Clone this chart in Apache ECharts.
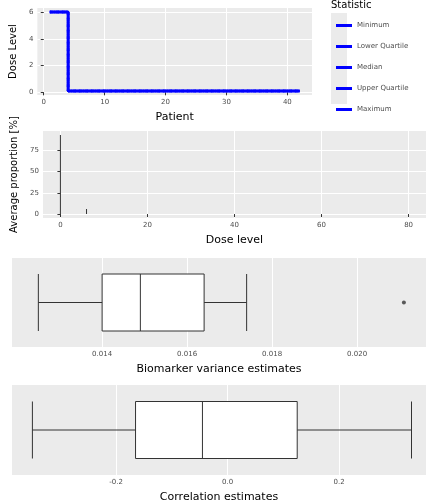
<!DOCTYPE html>
<html><head><meta charset="utf-8">
<script src="https://cdn.jsdelivr.net/npm/echarts@6/dist/echarts.min.js"></script>
<style>html,body{margin:0;background:#fff}#c{width:432px;height:504px}</style>
</head><body><div id="c"></div>
<script>
// panel 1: dose level by patient
const patients = [1, 4, 4, 42];
const doseLevels = [6, 6, 0.1, 0.1];
const statNames = ['Minimum', 'Lower Quartile', 'Median', 'Upper Quartile', 'Maximum'];
const statTypes = ['solid', [3, 3], 'solid', 'solid', [1, 3]];
const patientTicks = [0, 10, 20, 30, 40];
const doseTicks = [0, 2, 4, 6];
// panel 2: average proportion by dose level
const doseGrid = [0, 6];
const avgProp = [93, 6];
const doseLevelTicks = [0, 20, 40, 60, 80];
const propTicks = [0, 25, 50, 75];
// panel 3 / 4: boxplots [min, q1, median, q3, max]
const biomarkerBox = [0.0125, 0.0140, 0.0149, 0.0164, 0.0174];
const biomarkerOut = [0.0211];
const biomarkerTicks = [0.014, 0.016, 0.018, 0.020];
const corrBox = [-0.35, -0.165, -0.045, 0.125, 0.33];
const corrTicks = [-0.2, 0, 0.2];

const txt = '#4d4d4d', grey = '#ebebeb';
const tf = {fontFamily: 'DejaVu Sans'};
function xA(gi, min, max, ticks, name, fmt) {
  return {type: 'value', gridIndex: gi, min, max, name, nameLocation: 'middle', nameGap: 17,
    nameTextStyle: {...tf, color: '#000', fontSize: 11},
    axisLine: {show: false}, axisTick: {lineStyle: {color: '#333'}, length: 3, customValues: ticks},
    axisLabel: {...tf, color: txt, fontSize: 7, margin: 4, formatter: fmt, customValues: ticks},
    splitLine: {lineStyle: {color: '#fff', width: 1.1}}};
}
function yV(gi, min, max, ticks, name) {
  const a = xA(gi, min, max, ticks, name);
  a.nameGap = 18;
  a.nameTextStyle.fontSize = 10;
  return a;
}
function yC(gi) {
  return {type: 'category', gridIndex: gi, data: ['a'], axisLine: {show: false}, axisTick: {show: false},
    axisLabel: {show: false}, splitLine: {show: false}};
}
const lineSeries = statNames.map((n, i) => ({
  name: n, type: 'line', xAxisIndex: 0, yAxisIndex: 0, symbol: 'none',
  data: patients.map((p, j) => [p, doseLevels[j]]),
  lineStyle: {color: '#0000ff', width: 2.5, type: statTypes[i]}, itemStyle: {color: '#0000ff'}
}));
const chart = echarts.init(document.getElementById('c'));
chart.setOption({
  animation: false,
  grid: [
    {left: 29, top: 8, width: 283, height: 87, backgroundColor: grey, show: true, borderWidth: 0},
    {left: 43, top: 131, width: 383, height: 87, backgroundColor: grey, show: true, borderWidth: 0},
    {left: 12, top: 258, width: 414, height: 89, backgroundColor: grey, show: true, borderWidth: 0},
    {left: 12, top: 385, width: 414, height: 91, backgroundColor: grey, show: true, borderWidth: 0}
  ],
  legend: {
    data: statNames, orient: 'vertical', left: 331, top: 17, itemWidth: 16, itemHeight: 3, itemGap: 14,
    icon: 'rect', textStyle: {...tf, fontSize: 7, color: txt}
  },
  graphic: [
    {type: 'text', left: 331, top: 0, style: {text: 'Statistic', ...tf, fontSize: 10, fill: '#000'}},
    {type: 'rect', left: 331, top: 13, shape: {width: 16, height: 91}, style: {fill: grey}, z: -1}
  ],
  xAxis: [
    xA(0, -1.05, 44.05, patientTicks, 'Patient'),
    xA(1, -4, 84, doseLevelTicks, 'Dose level'),
    xA(2, 0.01188, 0.02162, biomarkerTicks, 'Biomarker variance estimates', v => v.toFixed(3)),
    xA(3, -0.3866, 0.356, corrTicks, 'Correlation estimates', v => v.toFixed(1))
  ],
  yAxis: [
    yV(0, -0.2, 6.3, doseTicks, 'Dose Level'),
    yV(1, -4.65, 97.65, propTicks, 'Average proportion [%]'),
    yC(2), yC(3)
  ],
  series: [
    ...lineSeries,
    {type: 'bar', xAxisIndex: 1, yAxisIndex: 1, barWidth: 1, itemStyle: {color: '#333'},
      data: doseGrid.map((d, i) => [d, avgProp[i]])},
    {type: 'boxplot', xAxisIndex: 2, yAxisIndex: 2, layout: 'horizontal', boxWidth: [57, 57],
      itemStyle: {color: '#fff', borderColor: '#333', borderWidth: 1}, data: [biomarkerBox]},
    {type: 'scatter', xAxisIndex: 2, yAxisIndex: 2, symbolSize: 4, itemStyle: {color: '#333'},
      data: biomarkerOut.map(v => [v, 'a'])},
    {type: 'boxplot', xAxisIndex: 3, yAxisIndex: 3, layout: 'horizontal', boxWidth: [57, 57],
      itemStyle: {color: '#fff', borderColor: '#333', borderWidth: 1}, data: [corrBox]}
  ]
});
</script></body></html>
